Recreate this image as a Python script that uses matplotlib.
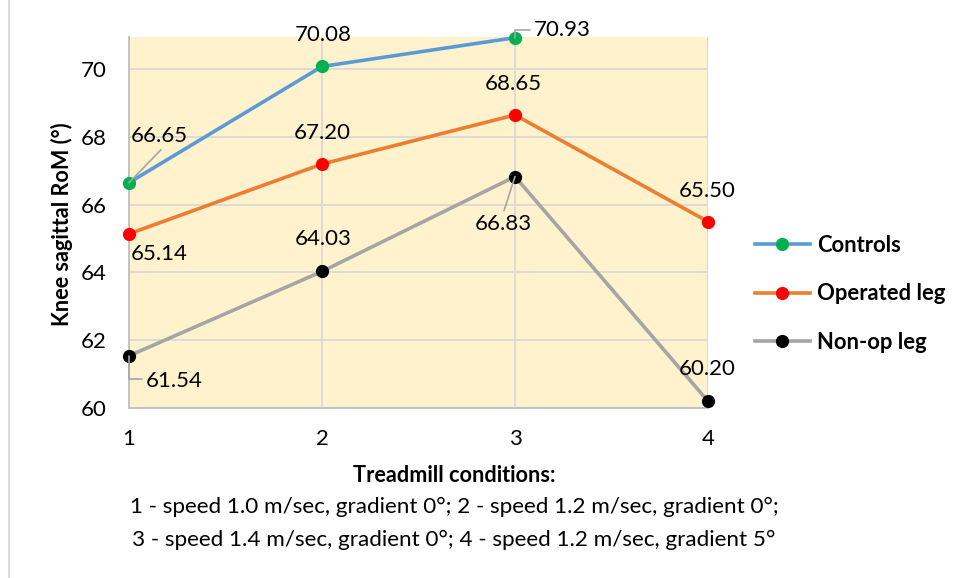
import matplotlib
matplotlib.use("Agg")
import matplotlib.pyplot as plt
from matplotlib.lines import Line2D

plt.rcParams['font.family'] = ['Lato', 'DejaVu Sans']

# Treadmill conditions and knee sagittal range of motion (degrees)
conditions = [1, 2, 3, 4]
controls = [66.65, 70.08, 70.93]
operated = [65.14, 67.20, 68.65, 65.50]
non_op = [61.54, 64.03, 66.83, 60.20]
series_names = ["Controls", "Operated leg", "Non-op leg"]
y_ticks = [60, 62, 64, 66, 68, 70]

line_colors = ["#5B9BD5", "#ED7D31", "#A5A5A5"]
marker_colors = ["#00B050", "#FF0000", "#000000"]

fig = plt.figure(figsize=(9.59, 5.78), dpi=100)
ax = fig.add_axes([129 / 959, 1 - 408 / 578, 579 / 959, 371 / 578])
ax.set_facecolor("#FFF2CC")

all_series = [controls, operated, non_op]
for vals, lc, mc, name in zip(all_series, line_colors, marker_colors, series_names):
    ax.plot(conditions[:len(vals)], vals, color=lc, lw=2.6, marker="o",
            ms=8.5, mfc=mc, mec=mc, label=name, zorder=3, clip_on=False)

ax.set_xlim(1, 4)
ax.set_ylim(60, 70.95)
ax.set_xticks(conditions)
ax.set_yticks(y_ticks)
ax.grid(True, color="#D9D9D9", lw=1.3, zorder=0)
ax.set_axisbelow(True)
for side in ["top", "right"]:
    ax.spines[side].set_visible(False)
for side in ["left", "bottom"]:
    ax.spines[side].set_color("#BFBFBF")
    ax.spines[side].set_linewidth(1.3)
ax.tick_params(axis="both", length=0, labelsize=16, colors="#000000")
ax.tick_params(axis="x", pad=15)
ax.tick_params(axis="y", pad=16)

# Data labels: (x, value, offset in pixels (dx, dy), leader style)
px = 0.72
lead = dict(arrowstyle="-", color="#A5A5A5", lw=1.2, shrinkA=0, shrinkB=0)
labels = [
    (1, controls[0], (30, 47), "line"),
    (2, controls[1], (1, 31), None),
    (3, controls[2], (47, 8), "elbow_h"),
    (1, operated[0], (30, -20), None),
    (2, operated[1], (0, 31), None),
    (3, operated[2], (-2, 31), None),
    (4, operated[3], (-1, 31), None),
    (1, non_op[0], (45, -25), "elbow_v"),
    (2, non_op[1], (1, 32), None),
    (3, non_op[2], (-12, -47), "line"),
    (4, non_op[3], (-1, 32), None),
]
for x, v, (dx, dy), kind in labels:
    ax.annotate(f"{v:.2f}", xy=(x, v), xytext=(dx * px, dy * px),
                textcoords="offset points", ha="center", va="center",
                fontsize=16, zorder=5, annotation_clip=False)
    if kind == "line":
        if dy > 0:
            ex, ey = dx + 2, dy - 14
        else:
            ex, ey = dx + 1, dy + 13
        ax.annotate("", xy=(x, v), xytext=(ex * px, ey * px),
                    textcoords="offset points", arrowprops=lead,
                    annotation_clip=False)
    elif kind == "elbow_h":
        ax.annotate("", xy=(x, v), xytext=(15 * px, 8 * px),
                    textcoords="offset points",
                    arrowprops=dict(lead, connectionstyle="angle,angleA=0,angleB=90,rad=0"),
                    annotation_clip=False)
    elif kind == "elbow_v":
        ax.annotate("", xy=(x, v), xytext=(13 * px, -23 * px),
                    textcoords="offset points",
                    arrowprops=dict(lead, connectionstyle="angle,angleA=180,angleB=90,rad=0"),
                    annotation_clip=False)

fig.text(62 / 959, 1 - 224 / 578, "Knee sagittal RoM (°)", rotation=90,
         ha="center", va="center", fontsize=15.6, fontweight="bold")

fig.text(454 / 959, 1 - 475 / 578, "Treadmill conditions:", ha="center",
         va="center", fontsize=15.6, fontweight="bold")
fig.text(454 / 959, 1 - 507 / 578,
         "1 - speed 1.0 m/sec, gradient 0°; 2 - speed 1.2 m/sec, gradient 0°;",
         ha="center", va="center", fontsize=16.2)
fig.text(454 / 959, 1 - 540 / 578,
         "3 - speed 1.4 m/sec, gradient 0°; 4 - speed 1.2 m/sec, gradient 5°",
         ha="center", va="center", fontsize=16.2)

handles = [Line2D([0], [0], color=lc, lw=2.6, marker="o", ms=8.5, mfc=mc, mec=mc)
           for lc, mc in zip(line_colors, marker_colors)]
leg = fig.legend(handles, series_names, loc="center left",
                 bbox_to_anchor=(735 / 959, 1 - 294 / 578), frameon=False,
                 prop=dict(size=15.8, weight="bold"), handlelength=2.5,
                 handletextpad=0.35, labelspacing=1.25)

# Chart border on the left edge
fig.add_artist(Line2D([9 / 959, 9 / 959], [0, 1], color="#D9D9D9", lw=1.3,
                      transform=fig.transFigure))

fig.savefig("out.png", dpi=100)
